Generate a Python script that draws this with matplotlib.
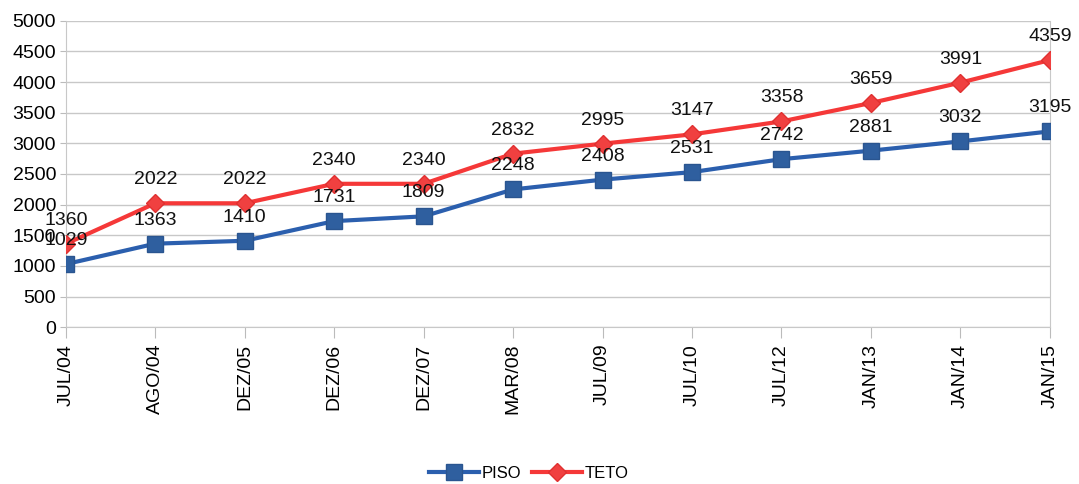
import matplotlib.pyplot as plt

# dados
datas = ["JUL/04", "AGO/04", "DEZ/05", "DEZ/06", "DEZ/07", "MAR/08",
         "JUL/09", "JUL/10", "JUL/12", "JAN/13", "JAN/14", "JAN/15"]
piso = [1029, 1363, 1410, 1731, 1809, 2248, 2408, 2531, 2742, 2881, 3032, 3195]
teto = [1360, 2022, 2022, 2340, 2340, 2832, 2995, 3147, 3358, 3659, 3991, 4359]

plt.rcParams['font.family'] = ['Liberation Sans', 'DejaVu Sans']

fig = plt.figure(figsize=(10.79, 4.84), dpi=100)
ax = fig.add_axes([0.061, 0.324, 0.912, 0.633])

x = list(range(len(datas)))
azul = "#2b5fae"
vermelho = "#f53838"

ax.plot(x, piso, color=azul, linewidth=3, marker="s", markersize=11,
        markerfacecolor="#2f5f9f", markeredgecolor="#2a5590", label="PISO", zorder=3)
ax.plot(x, teto, color=vermelho, linewidth=3, marker="D", markersize=9,
        markerfacecolor="#f04040", markeredgecolor="#e03030", label="TETO", zorder=3)

for i in x:
    ax.annotate(str(piso[i]), (i, piso[i]), xytext=(0, 17), textcoords="offset points",
                ha="center", va="center", fontsize=14, color="#111111", zorder=4)
    ax.annotate(str(teto[i]), (i, teto[i]), xytext=(0, 17), textcoords="offset points",
                ha="center", va="center", fontsize=14, color="#111111", zorder=4)

ax.set_xlim(0, len(datas) - 1)
ax.set_ylim(0, 5000)
ax.set_yticks(range(0, 5001, 500))
ax.set_xticks(x)
ax.set_xticklabels(datas, rotation=90, fontsize=14)
ax.tick_params(axis="y", labelsize=14, length=4, color="#bbbbbb", pad=3)
ax.tick_params(axis="x", length=8, color="#bbbbbb", pad=4)

ax.grid(axis="y", color="#c8c8c8", linewidth=1)
ax.set_axisbelow(True)
for s in ["left", "right", "bottom"]:
    ax.spines[s].set_color("#c8c8c8")
ax.spines["top"].set_visible(False)

fig.legend(loc="lower center", bbox_to_anchor=(0.49, -0.025), ncol=2, frameon=False,
           fontsize=12, handlelength=3, columnspacing=0.6, handletextpad=0.2)

fig.savefig("out.png", dpi=100)
